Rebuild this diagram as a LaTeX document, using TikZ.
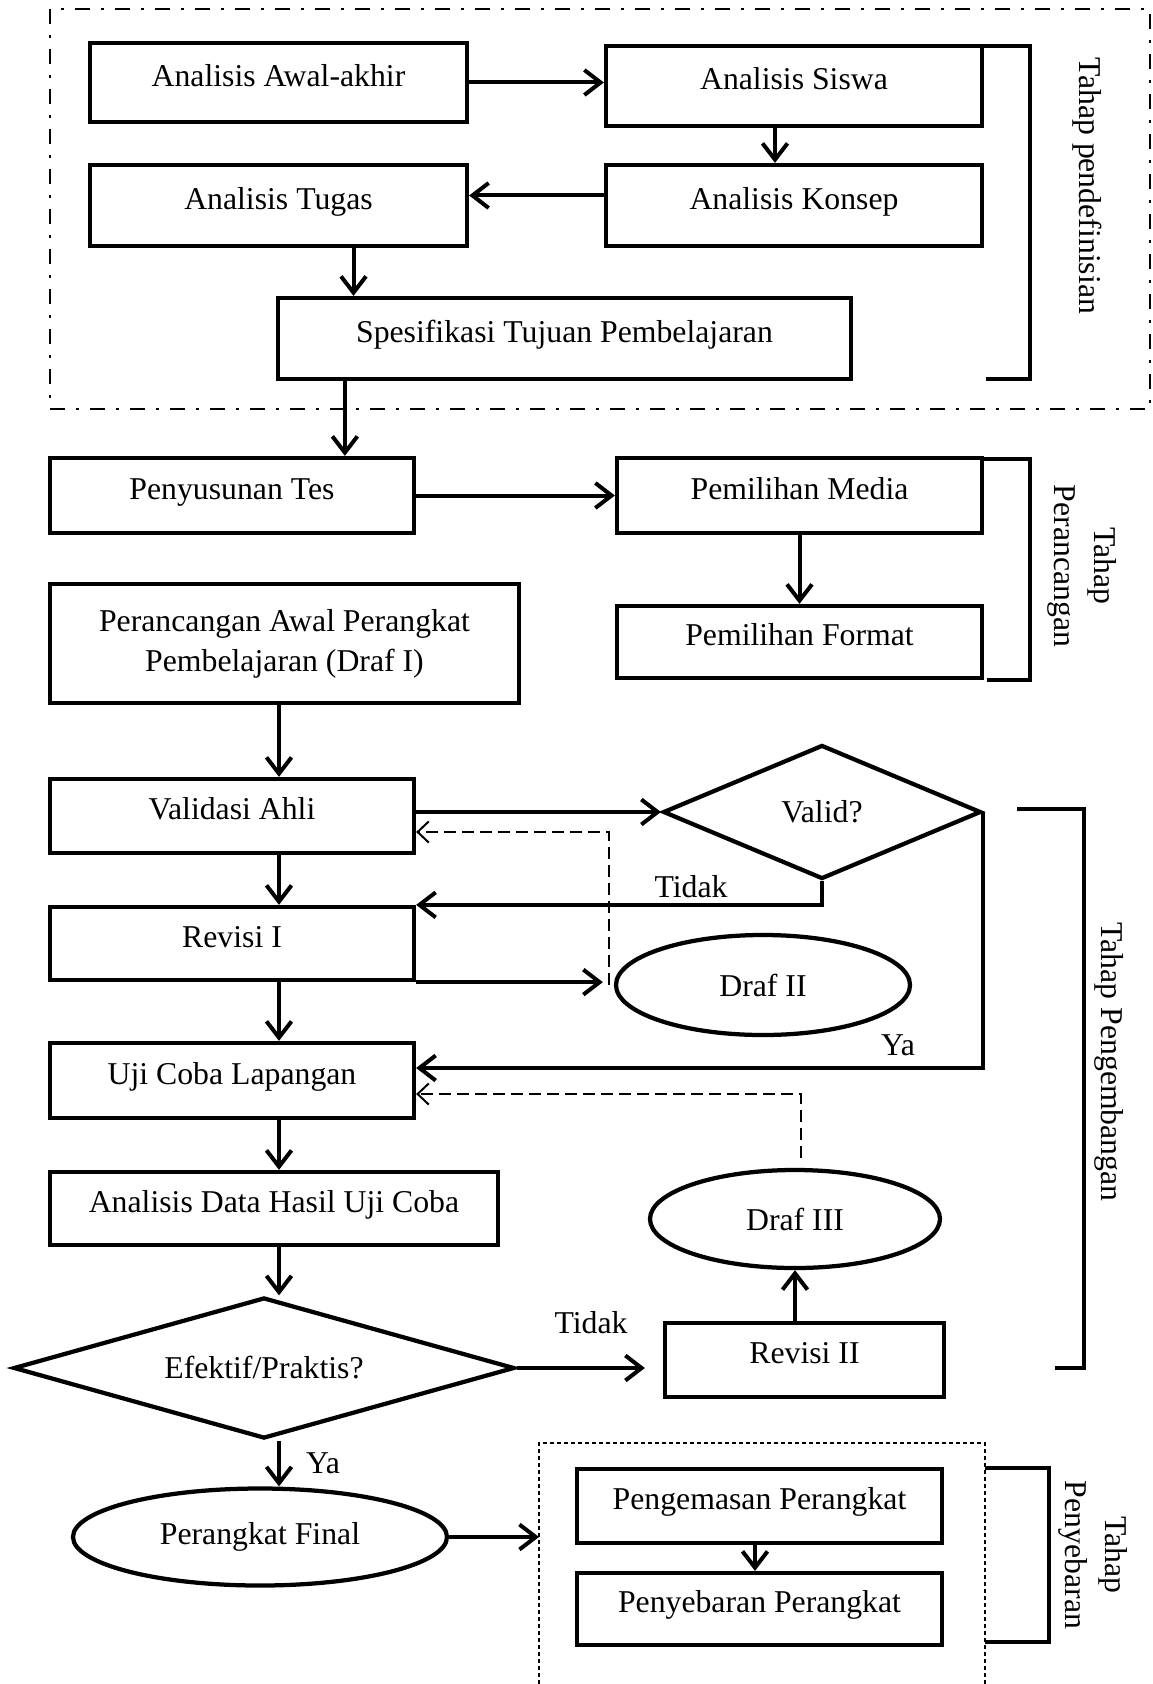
\documentclass[tikz,border=0pt]{standalone}
\usepackage{fontspec}
\setmainfont{Liberation Serif}
\usetikzlibrary{arrows.meta,shapes.geometric}

\tikzset{
  box/.style={draw, line width=1.7pt, inner sep=0pt, text height=0.7em, text depth=0.4em},
  tallbox/.style={draw, line width=1.7pt, inner sep=0pt},
  oval/.style={draw, ellipse, line width=1.7pt, inner sep=0pt},
  decide/.style={draw, diamond, line width=1.7pt, inner sep=0pt},
  arr/.style={line width=1.6pt, -{Straight Barb[length=6.5pt,width=10pt]}},
  dasharr/.style={line width=0.8pt, dash pattern=on 4.8pt off 2.4pt, -{Straight Barb[length=4.5pt,width=8.5pt]}},
  bracket/.style={line width=1.8pt},
  stage/.style={rotate=-90, align=center}
}

\begin{document}
\begin{tikzpicture}[x=0.4pt, y=-0.4pt, font=\fontsize{12.7}{16}\selectfont]
\useasboundingbox (0,0) rectangle (1152,1684);
\coordinate (col) at (279,0);

% Tahap pendefinisian
\draw[line width=1pt, dash pattern=on 6pt off 4.4pt on 1.2pt off 4.4pt] (50,9) rectangle (1150,409);
\node[box, minimum width=150.8pt, minimum height=31.6pt] (awal) at (278.5,82.5) {Analisis Awal-akhir};
\node[box, minimum width=150.4pt, minimum height=32pt] (siswa) at (794,86) {Analisis Siswa};
\node[box, minimum width=150.8pt, minimum height=32.4pt] (tugas) at (278.5,205.5) {Analisis Tugas};
\node[box, minimum width=150.4pt, minimum height=32.4pt] (konsep) at (794,205.5) {Analisis Konsep};
\node[box, minimum width=229.2pt, minimum height=32.4pt] (spes) at (564.5,338.5) {Spesifikasi Tujuan Pembelajaran};

\draw[arr] (awal.east) -- (awal.east -| siswa.west);
\draw[arr] ([xshift=-7.6pt]siswa.south) -- ([xshift=-7.6pt]konsep.north);
\draw[arr] ([yshift=4pt]konsep.west) -- ([yshift=4pt]konsep.west -| tugas.east);
\draw[arr] ([xshift=30pt]tugas.south) -- ([xshift=30pt]tugas.south |- spes.north);

\draw[bracket] (982,46) -- (1030,46) -- (1030,379) -- (986,379);
\node[stage] (defin) at (1087,186) {Tahap pendefinisian};

% Tahap perancangan
\node[box, minimum width=145.6pt, minimum height=30pt] (tes) at (232,495.5) {Penyusunan Tes};
\node[box, minimum width=146pt, minimum height=30pt] (media) at (799.5,495.5) {Pemilihan Media};
\node[tallbox, minimum width=187.6pt, minimum height=47.6pt, align=center] (rancang) at (284.5,643.5) {Perancangan Awal Perangkat\\Pembelajaran (Draf I)};
\node[box, minimum width=146pt, minimum height=28.8pt] (format) at (799.5,642) {Pemilihan Format};

\draw[arr] ([xshift=27.6pt]spes.south west) -- ([xshift=27.6pt]spes.south west |- tes.north);
\draw[arr] (tes.east) -- (media.west);
\draw[arr] (media.south) -- (format.north);

\draw[bracket] (982,459) -- (1030,459) -- (1030,680) -- (987,680);
\node[stage] (ranc) at (1082,566) {Tahap\\Perancangan};

% Tahap pengembangan
\node[box, minimum width=145.6pt, minimum height=29.6pt] (validasi) at (232,816) {Validasi Ahli};
\node[decide, aspect=2.4, minimum width=127.2pt, minimum height=53.6pt] (valid) at (822,812) {Valid?};
\node[box, minimum width=145.6pt, minimum height=29.2pt] (revisi1) at (232,943.5) {Revisi I};
\node[oval, minimum width=117.6pt, minimum height=40pt] (draf2) at (763,985) {Draf II};
\node[box, minimum width=145.6pt, minimum height=30pt] (uji) at (232,1080.5) {Uji Coba Lapangan};
\node[box, minimum width=179.2pt, minimum height=29.2pt] (data) at (274,1208.5) {Analisis Data Hasil Uji Coba};
\node[decide, aspect=3.55, minimum width=200.4pt, minimum height=56.4pt] (efektif) at (264,1368) {Efektif/Praktis?};
\node[box, minimum width=111.6pt, minimum height=29.6pt] (revisi2) at (804.5,1360) {Revisi II};
\node[oval, minimum width=116pt, minimum height=39.2pt] (draf3) at (795,1219) {Draf III};
\node[oval, minimum width=149.6pt, minimum height=38.8pt] (final) at (260,1537) {Perangkat Final};

\draw[arr] (rancang.south -| col) -- (validasi.north -| col);
\draw[arr] (validasi.south -| col) -- (revisi1.north -| col);
\draw[arr] (revisi1.south -| col) -- (uji.north -| col);
\draw[arr] (uji.south -| col) -- (data.north -| col);
\draw[arr] (data.south -| col) -- (efektif.north -| col);
\draw[arr] (efektif.south -| col) -- (final.north -| col);
\node (ya2) at (323,1463) {Ya};

\draw[arr] (validasi.east |- valid.west) -- (valid.west);
\draw[arr] (valid.south) |- (revisi1.north east);
\node (tidak1) at (691,887) {Tidak};
\draw[arr] (revisi1.south east) -- ([xshift=-4.4pt]revisi1.south east -| draf2.west);
\draw[arr] (valid.east) |- ([yshift=5pt]uji.east);
\node (ya1) at (898,1045) {Ya};
\draw[dasharr] ([xshift=-2pt]draf2.west) |- ([yshift=-6.4pt]validasi.east);
\draw[dasharr] ([xshift=2.4pt,yshift=4pt]draf3.north) |- ([yshift=-5.4pt]uji.east);

\draw[arr] (efektif.east) -- ([xshift=-7.2pt]efektif.east -| revisi2.west);
\node (tidak2) at (591,1323) {Tidak};
\draw[arr] (draf3.south |- revisi2.north) -- (draf3.south);

\draw[bracket] (1017,809) -- (1084,809) -- (1084,1368) -- (1055,1368);
\node[stage] (kembang) at (1109,1062) {Tahap Pengembangan};

% Tahap penyebaran
\draw[line width=0.5pt, dash pattern=on 1.6pt off 1.2pt] (539,1684) -- (539,1443) -- (985,1443) -- (985,1684);
\coordinate (sebarin) at (539,1538);
\node[box, minimum width=146pt, minimum height=29.6pt] (kemas) at (759.5,1506) {Pengemasan Perangkat};
\node[box, minimum width=146pt, minimum height=28.8pt] (sebar) at (759.5,1609) {Penyebaran Perangkat};

\draw[arr] (final.east) -- (final.east -| sebarin);
\draw[arr] ([xshift=-1.8pt]kemas.south) -- ([xshift=-1.8pt]sebar.north);

\draw[bracket] (985,1468) -- (1049,1468) -- (1049,1642) -- (985,1642);
\node[stage] (sebaran) at (1093,1555) {Tahap\\Penyebaran};

\end{tikzpicture}
\end{document}
